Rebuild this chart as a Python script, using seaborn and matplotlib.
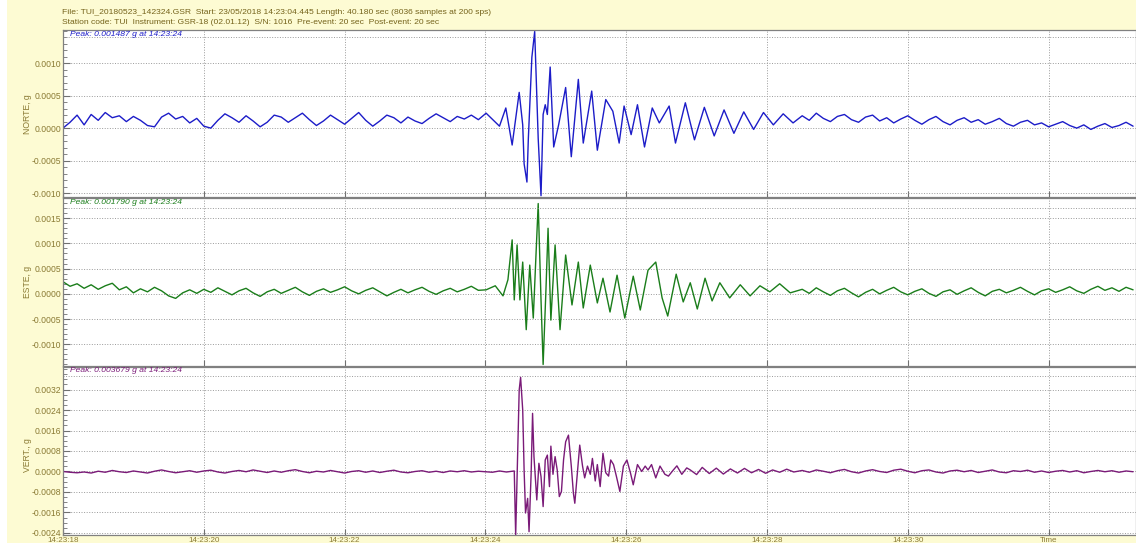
import numpy as np
import pandas as pd
import matplotlib
matplotlib.use('Agg')
import matplotlib.pyplot as plt
import seaborn as sns
from matplotlib.ticker import FixedLocator, MultipleLocator, FormatStrFormatter
from matplotlib.patches import Rectangle

# time in seconds after 14:23:18, acceleration in units of 1e-4 g
# quiet parts are sampled every 0.1 s: pre-event 0.0-5.9 s, coda 10.5-15.2 s
norte_pre = [0.0, 0.9, 2.0, 0.5, 2.1, 1.2, 2.4, 1.6, 1.9, 1.0,
             1.8, 1.2, 0.4, 0.2, 1.7, 2.3, 1.4, 1.8, 0.8, 1.5,
             0.3, 0.0, 1.2, 2.2, 1.6, 0.9, 1.9, 1.1, 0.2, 0.9,
             2.0, 1.7, 0.9, 1.6, 2.3, 1.3, 0.4, 1.1, 2.0, 1.3,
             0.6, 1.5, 2.4, 1.2, 0.3, 1.1, 2.0, 1.6, 0.8, 1.7,
             1.1, 0.7, 1.5, 2.2, 1.6, 1.0, 1.8, 1.4, 2.0, 1.3]
norte_evt_t = [6.01, 6.20, 6.29, 6.38, 6.48, 6.53, 6.55, 6.59, 6.61, 6.66,
               6.70, 6.73, 6.75, 6.79, 6.82, 6.85, 6.88, 6.92, 6.97, 7.04,
               7.14, 7.22, 7.32, 7.39, 7.51, 7.59, 7.71, 7.81, 7.90, 7.97,
               8.07, 8.16, 8.26, 8.37, 8.47, 8.61, 8.70, 8.84, 8.97, 9.11,
               9.25, 9.39, 9.53, 9.67, 9.81, 9.95, 10.09, 10.23, 10.37]
norte_evt_v = [2.3, 0.3, 3.1, -2.6, 5.5, 0.5, -5.5, -8.3, -1.6, 10.9,
               14.87, 5.2, -1.6, -10.4, 2.1, 3.6, 2.1, 9.4, -2.9, 0.5,
               6.25, -4.4, 7.5, -2.3, 5.7, -3.4, 4.4, 2.6, -2.3, 3.4,
               -1.0, 3.6, -2.9, 3.1, 0.8, 3.4, -2.3, 3.9, -1.8, 3.2,
               -1.2, 2.8, -0.8, 2.5, -0.2, 2.4, 0.5, 2.2, 0.8]
norte_post = [1.9, 1.2, 2.3, 1.5, 1.0, 1.8, 2.1, 1.3, 0.9, 1.7,
              2.0, 1.1, 1.6, 0.8, 1.4, 1.9, 1.2, 0.6, 1.3, 1.8,
              1.0, 0.5, 1.2, 1.6, 0.9, 1.3, 0.6, 1.0, 1.5, 0.7,
              0.3, 0.9, 1.2, 0.5, 0.8, 0.2, 0.6, 1.0, 0.4, 0.0,
              0.5, -0.2, 0.3, 0.7, 0.1, 0.4, 0.9, 0.3]

este_pre = [2.4, 1.5, 2.0, 1.1, 1.8, 0.9, 1.6, 2.1, 0.8, 1.4,
            0.2, 1.0, 0.4, 1.3, 0.6, -0.4, -0.9, 0.2, 0.8, 0.1,
            0.9, 0.3, 1.2, 0.5, -0.2, 0.6, 1.1, 0.2, -0.5, 0.4,
            0.9, 0.1, 0.7, 1.3, 0.4, -0.3, 0.5, 1.0, 0.3, 0.8,
            1.4, 0.6, 0.0, 0.7, 1.2, 0.4, -0.4, 0.3, 0.9, 0.2,
            0.8, 1.3, 0.5, -0.1, 0.6, 1.1, 0.4, 0.9, 1.5, 0.7]
este_evt_t = [6.01, 6.14, 6.25, 6.32, 6.38, 6.41, 6.45, 6.49, 6.53, 6.58,
              6.63, 6.68, 6.75, 6.79, 6.82, 6.86, 6.89, 6.93, 6.99, 7.06,
              7.14, 7.23, 7.32, 7.39, 7.49, 7.59, 7.67, 7.77, 7.87, 7.98,
              8.10, 8.20, 8.31, 8.42, 8.51, 8.59, 8.71, 8.81, 8.91, 9.01,
              9.12, 9.22, 9.33, 9.47, 9.62, 9.76, 9.90, 10.04, 10.18, 10.33]
este_evt_v = [0.8, 1.6, -0.4, 2.8, 10.7, -1.2, 9.7, -1.2, 6.3, -7.1,
              5.7, -4.8, 17.9, -1.2, -14.0, 0.8, 13.0, -5.2, 9.7, -7.1,
              7.7, -2.2, 6.3, -2.8, 5.7, -1.8, 3.1, -3.6, 3.7, -4.8,
              3.5, -3.2, 4.7, 6.3, -0.8, -4.4, 3.9, -1.6, 2.2, -3.0,
              3.1, -1.4, 2.2, -0.8, 1.8, -0.4, 1.6, 0.4, 2.0, 0.2]
este_post = [0.9, 0.1, 1.2, 0.4, -0.3, 0.6, 1.1, 0.2, -0.6, 0.3,
             0.9, 0.0, 0.7, 1.3, 0.4, -0.2, 0.5, 1.0, 0.1, -0.5,
             0.4, 0.8, -0.1, 0.6, 1.2, 0.3, -0.4, 0.5, 0.9, 0.2,
             0.7, 1.3, 0.5, -0.2, 0.6, 1.0, 0.3, 0.8, 1.4, 0.6,
             0.1, 0.9, 1.5, 0.7, 1.2, 0.5, 1.3, 0.8]

vert_pre = [0.0, -0.3, -0.5, -0.2, -0.6, 0.1, -0.3, 0.4, -0.1, -0.4,
            0.2, -0.2, -0.6, 0.1, 0.6, 0.0, -0.5, -0.1, 0.3, -0.3,
            0.2, 0.5, -0.2, -0.6, 0.0, 0.4, -0.1, 0.6, 0.1, -0.4,
            0.2, -0.3, 0.3, 0.7, 0.0, -0.5, 0.1, -0.2, 0.4, -0.1,
            -0.6, 0.0, 0.3, -0.3, 0.2, -0.4, 0.1, 0.5, -0.2, -0.5,
            0.0, 0.3, -0.3, 0.1, -0.4, 0.2, -0.1, 0.3, -0.2, 0.1]
vert_evt_t = [6.10, 6.20, 6.30, 6.38, 6.41, 6.43, 6.46, 6.48, 6.50, 6.53,
              6.55, 6.57, 6.60, 6.62, 6.65, 6.67, 6.69, 6.73, 6.76, 6.79,
              6.82, 6.85, 6.88, 6.91, 6.93, 6.96, 6.99, 7.02, 7.05, 7.08,
              7.11, 7.14, 7.18, 7.22, 7.25, 7.27, 7.31, 7.34, 7.38, 7.41,
              7.45, 7.49, 7.52, 7.56, 7.59, 7.63, 7.67, 7.71, 7.75, 7.78,
              7.82, 7.86, 7.91, 7.96, 8.01, 8.06, 8.10, 8.16, 8.22, 8.27,
              8.31, 8.36, 8.42, 8.48, 8.55, 8.60, 8.67, 8.72, 8.79, 8.86,
              8.91, 9.00, 9.08, 9.18, 9.28, 9.38, 9.48, 9.58, 9.68, 9.78,
              9.88, 9.98, 10.08, 10.18, 10.28, 10.38]
vert_evt_v = [-0.3, 0.2, -0.2, 0.1, 0.2, -25.0, 8.4, 31.8, 36.79, 24.0,
              0.4, -16.2, -10.5, -23.5, -0.5, 22.7, 5.8, -11.1, 3.2, -2.0,
              -13.7, 4.5, 6.4, -5.9, 9.9, -1.1, 5.8, 0.6, -9.8, -7.8,
              4.5, 11.6, 14.2, 2.1, -8.5, -12.4, 0.6, 10.3, 2.1, -2.5,
              2.1, -1.1, 5.1, -3.7, 2.7, -5.9, 7.1, -0.5, -1.8, 4.5,
              2.7, -1.8, -7.8, 2.1, 4.5, -0.5, -5.2, 2.7, 0.0, 2.1,
              0.6, 2.7, -2.5, 2.1, -1.1, -1.8, 0.6, 2.2, -1.1, 1.4,
              0.6, -1.2, 1.6, -0.8, 1.3, -1.0, 1.0, -0.6, 1.2, -0.5,
              0.8, -0.7, 0.6, -0.3, 0.9, -0.2]
vert_post = [0.4, -0.3, 0.6, 0.1, -0.5, 0.3, 0.8, -0.1, -0.6, 0.2,
             0.7, 0.0, -0.4, 0.5, 0.9, 0.1, -0.5, 0.3, 0.6, -0.2,
             -0.6, 0.2, 0.5, -0.1, 0.4, -0.4, 0.1, 0.6, -0.2, -0.5,
             0.3, 0.0, 0.5, -0.3, 0.2, -0.4, 0.1, 0.4, -0.2, 0.3,
             -0.5, 0.0, 0.4, -0.1, 0.3, -0.3, 0.2, -0.1]

time_ticks = [0, 2, 4, 6, 8, 10, 12, 14]
time_labels = ['14:23:18', '14:23:20', '14:23:22', '14:23:24',
               '14:23:26', '14:23:28', '14:23:30', 'Time']


def build(pre, evt_t, evt_v, post):
    t = np.concatenate([np.linspace(0.0, 5.9, len(pre)), evt_t,
                        np.linspace(10.5, 15.2, len(post))])
    g = np.concatenate([pre, evt_v, post]) * 1e-4
    return pd.DataFrame({'t': t, 'g': g})


panels = [
    dict(df=build(norte_pre, norte_evt_t, norte_evt_v, norte_post), label='NORTE, g',
         color='#1c1cc8', peak='Peak: 0.001487 g at 14:23:24',
         ylim=(-0.00106, 0.00151), top=0.00140,
         majors=[-0.0010, -0.0005, 0.0, 0.0005, 0.0010], minor=0.0001,
         rect=(197, 30), label_y=114),
    dict(df=build(este_pre, este_evt_t, este_evt_v, este_post), label='ESTE, g',
         color='#1a7d1a', peak='Peak: 0.001790 g at 14:23:24',
         ylim=(-0.00143, 0.00190), top=0.00170,
         majors=[-0.0010, -0.0005, 0.0, 0.0005, 0.0010, 0.0015], minor=0.0001,
         rect=(366, 198), label_y=282),
    dict(df=build(vert_pre, vert_evt_t, vert_evt_v, vert_post), label='VERT., g',
         color='#7a1a78', peak='Peak: 0.003679 g at 14:23:24',
         ylim=(-0.00248, 0.00408), top=0.00373,
         majors=[-0.0024, -0.0016, -0.0008, 0.0, 0.0008, 0.0016, 0.0024, 0.0032], minor=0.0002,
         rect=(535, 367), label_y=455),
]

sns.set_style('white')
plt.rcParams['font.family'] = ['Liberation Sans', 'DejaVu Sans']

W, H = 1136, 543
bg = '#fdfbd3'
olive = '#8a7a34'
header_col = '#74621a'

fig = plt.figure(figsize=(W / 100, H / 100), dpi=100, facecolor=bg)
fig.add_artist(Rectangle((0, 0), 7 / W, 1, transform=fig.transFigure,
                         facecolor='white', edgecolor='none'))

fig.text(62 / W, 1 - 12 / H,
         'File: TUI_20180523_142324.GSR  Start: 23/05/2018 14:23:04.445 Length: 40.180 sec (8036 samples at 200 sps)',
         fontsize=6.1, color=header_col, va='center', ha='left')
fig.text(62 / W, 1 - 23 / H,
         'Station code: TUI  Instrument: GSR-18 (02.01.12)  S/N: 1016  Pre-event: 20 sec  Post-event: 20 sec',
         fontsize=6.1, color=header_col, va='center', ha='left')

x_left = 63
for i, p in enumerate(panels):
    bot_px, top_px = p['rect']
    ax = fig.add_axes([x_left / W, 1 - bot_px / H, (W - x_left) / W, (bot_px - top_px) / H])
    ax.set_facecolor('white')
    sns.lineplot(data=p['df'], x='t', y='g', ax=ax, color=p['color'],
                 linewidth=1.0, estimator=None, sort=False)
    ax.set_xlim(0, (W - x_left) / 70.4)
    ax.set_ylim(*p['ylim'])
    ax.set_xlabel('')
    ax.set_ylabel('')

    ax.yaxis.set_major_locator(FixedLocator(p['majors']))
    ax.yaxis.set_minor_locator(MultipleLocator(p['minor']))
    ax.yaxis.set_major_formatter(FormatStrFormatter('%.4f'))
    ax.set_xticks(time_ticks)
    if i == len(panels) - 1:
        ax.set_xticklabels(time_labels)
    else:
        ax.set_xticklabels([])

    ax.grid(True, which='major', linestyle=':', linewidth=0.7, color='#9a9a9a')
    ax.axhline(p['top'], linestyle=':', linewidth=0.7, color='#9a9a9a')
    ax.tick_params(axis='y', which='major', direction='in', length=5, width=0.8,
                   colors='#707070', labelcolor=olive, labelsize=6.2, pad=1.5, left=True)
    ax.tick_params(axis='y', which='minor', direction='in', length=3, width=0.6,
                   colors='#707070', left=True)
    ax.tick_params(axis='x', which='major', direction='in', length=4, width=0.8,
                   colors='#707070', labelcolor=olive, labelsize=5.8, pad=1.2, bottom=True)
    for s in ax.spines.values():
        s.set_color('#808080')
        s.set_linewidth(0.9)

    ax.text(0.0065, 1 - 4 / (bot_px - top_px), p['peak'], transform=ax.transAxes,
            fontsize=6.1, style='italic', color=p['color'], va='center', ha='left')
    fig.text(27 / W, 1 - p['label_y'] / H, p['label'], rotation=90,
             fontsize=6.2, color=olive, va='center', ha='center')

fig.savefig('out.png', dpi=100, facecolor=bg)
